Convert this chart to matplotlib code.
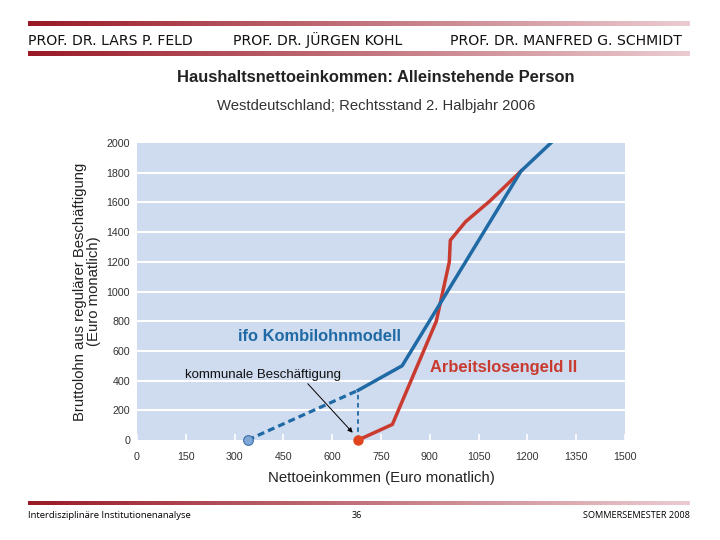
import matplotlib
matplotlib.use("Agg")
import matplotlib.pyplot as plt
import numpy as np

plt.rcParams['font.family'] = ['Liberation Sans', 'DejaVu Sans']

# data (Euro monatlich)
alg2_netto = [680, 785, 920, 960, 963, 1010, 1085, 1180]
alg2_brutto = [0, 105, 800, 1200, 1345, 1470, 1610, 1810]
ifo_netto = [680, 815, 1180, 1272]
ifo_brutto = [335, 500, 1810, 2000]
komm_netto = [340, 680]
komm_brutto = [0, 335]

x_ticks = [0, 150, 300, 450, 600, 750, 900, 1050, 1200, 1350, 1500]
y_ticks = [0, 200, 400, 600, 800, 1000, 1200, 1400, 1600, 1800, 2000]

header_names = ["PROF. DR. LARS P. FELD", "PROF. DR. JÜRGEN KOHL", "PROF. DR. MANFRED G. SCHMIDT"]
footer_left = "Interdisziplinäre Institutionenanalyse"
footer_mid = "36"
footer_right = "SOMMERSEMESTER 2008"

BLUE = '#1f6aa5'
RED = '#c93a2f'
BG = '#cfdbef'

fig = plt.figure(figsize=(7.2, 5.4), dpi=100)

# page decoration in pixel coordinates
deco = fig.add_axes([0, 0, 1, 1])
deco.set_xlim(0, 720)
deco.set_ylim(540, 0)
deco.axis('off')
c0 = np.array([0.60, 0.10, 0.15])
c1 = np.array([0.92, 0.80, 0.82])
t = np.linspace(0, 1, 256)
grad = (c0[None, :] * (1 - t[:, None]) + c1[None, :] * t[:, None])[None, :, :]
for y0, y1 in [(21, 26), (51.5, 56.5), (501.5, 505.5)]:
    deco.imshow(grad, extent=(28, 690, y1, y0), aspect='auto')
deco.set_xlim(0, 720)
deco.set_ylim(540, 0)
hx = [28, 233, 450]
for x, name in zip(hx, header_names):
    deco.text(x, 45, name, fontsize=10.1, family='DejaVu Sans', color='#111111',
              va='baseline', ha='left')
deco.text(28, 516, footer_left, fontsize=6.8, family='Open Sans', va='center', ha='left')
deco.text(357, 516, footer_mid, fontsize=6.5, family='Open Sans', va='center', ha='center')
deco.text(690, 516, footer_right, fontsize=6.6, family='Open Sans', va='center', ha='right')
deco.text(376, 78, "Haushaltsnettoeinkommen: Alleinstehende Person", fontsize=11.9,
          fontweight='bold', ha='center', va='center', color='#222222')
deco.text(376, 106, "Westdeutschland; Rechtsstand 2. Halbjahr 2006", fontsize=10.7,
          ha='center', va='center', color='#333333')

ax = fig.add_axes([137 / 720, 100 / 540, 488 / 720, 297 / 540])
ax.set_facecolor(BG)
ax.set_xlim(0, 1500)
ax.set_ylim(0, 2000)
for s in ax.spines.values():
    s.set_visible(False)
for yv in y_ticks[1:-1]:
    ax.axhline(yv, color='white', lw=1.5, zorder=1)
ax.set_xticks(x_ticks)
ax.set_yticks(y_ticks)
ax.tick_params(axis='x', direction='in', length=4, color='white', width=1.2,
               labelsize=7.7, labelcolor='#333333', pad=9)
ax.tick_params(axis='y', length=0, labelsize=7.7, labelcolor='#333333', pad=5)

ax.plot(komm_netto, komm_brutto, color=BLUE, lw=2.3, ls=(0, (2.2, 1.3)), zorder=3)
ax.plot([komm_netto[1], komm_netto[1]], [0, komm_brutto[1]], color=BLUE, lw=1.3,
        ls=(0, (2.5, 2)), zorder=3)
ax.plot(ifo_netto, ifo_brutto, color=BLUE, lw=2.5, zorder=4, clip_on=True)
ax.plot(alg2_netto, alg2_brutto, color=RED, lw=2.5, zorder=3)
ax.plot(komm_netto[0], komm_brutto[0], 'o', ms=7, mfc='#7ea6d6', mec='#3d6fa8', mew=0.8,
        zorder=5, clip_on=False)
ax.plot(alg2_netto[0], alg2_brutto[0], 'o', ms=6.5, mfc='#e0451f', mec='#e0451f',
        zorder=5, clip_on=False)

ax.text(310, 694, "ifo Kombilohnmodell", color=BLUE, fontsize=11.9, fontweight='bold', va='center')
ax.text(900, 485, "Arbeitslosengeld II", color=RED, fontsize=11.9, fontweight='bold', va='center')
ax.annotate("kommunale Beschäftigung", xy=(663, 49), xytext=(148, 438),
            fontsize=9.5, va='center', ha='left', color='#111111',
            arrowprops=dict(arrowstyle='-|>', color='black', lw=0.7, mutation_scale=7,
                            shrinkA=0, shrinkB=0, relpos=(0.77, 0)))

ax.set_xlabel("Nettoeinkommen (Euro monatlich)", fontsize=10.7, color='#222222', labelpad=6)
ax.set_ylabel("Bruttolohn aus regulärer Beschäftigung\n(Euro monatlich)", fontsize=10.7,
              color='#222222', labelpad=4, linespacing=1.0)

fig.savefig("out.png", dpi=100)
